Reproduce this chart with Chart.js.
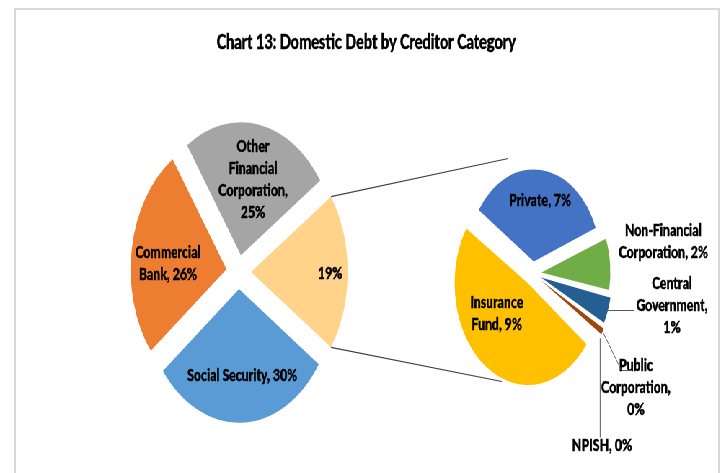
<!DOCTYPE html>
<html>
<head>
<meta charset="utf-8">
<script src="https://cdn.jsdelivr.net/npm/chart.js@4.4.1/dist/chart.umd.min.js"></script>
<style>
  body { margin: 0; background: #fff; }
  #moldura { position: absolute; left: 14px; top: 8px; width: 702px; height: 480px; border: 2px solid #d9d9d9; border-bottom: none; }
  #palco { position: absolute; left: 0; top: 0; width: 1000px; height: 473px; transform: scaleX(0.721); transform-origin: 0 0; }
  #palco canvas { position: absolute; left: 0; top: 0; }
</style>
</head>
<body>
<div id="moldura"></div>
<div id="palco">
  <canvas id="graficoPrincipal" width="1000" height="473"></canvas>
  <canvas id="graficoDetalhe" width="1000" height="473"></canvas>
</div>
<script>
const titulo = 'Chart 13: Domestic Debt by Creditor Category';

// pizza principal (o primeiro pedaço é o "outros" que abre na segunda pizza)
const categoriasPrincipais = ['Other', 'Social Security', 'Commercial Bank', 'Other Financial Corporation'];
const valoresPrincipais = [19, 30, 26, 25];
const coresPrincipais = ['#FFD38A', '#5B9BD5', '#ED7D31', '#A5A5A5'];

// pizza secundaria
const categoriasDetalhe = ['Private', 'Non-Financial Corporation', 'Central Government', 'Public Corporation', 'NPISH', 'Insurance Fund'];
const valoresDetalhe = [6.6, 1.7, 0.9, 0.3, 0.1, 9.4];
const coresDetalhe = ['#4472C4', '#70AD47', '#255E91', '#9E480E', '#636363', '#FFC000'];

const total = valoresPrincipais.reduce((a, b) => a + b, 0);
const fonteRotulo = '900 17px Lato';

// escreve texto com um contorno fino, pra ficar mais grosso depois do scaleX
function escreve(ctx, texto, x, y) {
  ctx.strokeText(texto, x, y);
  ctx.fillText(texto, x, y);
}

const rotulos = {
  id: 'rotulos',
  afterDatasetsDraw(chart, args, opts) {
    const ctx = chart.ctx;
    const arcos = chart.getDatasetMeta(0).data;
    const valores = chart.data.datasets[0].data;
    const cx = arcos[0].x, cy = arcos[0].y;
    ctx.save();
    ctx.fillStyle = '#000';
    ctx.strokeStyle = '#000';
    ctx.lineWidth = 0.4;
    ctx.textAlign = 'center';
    ctx.textBaseline = 'middle';
    if (opts.titulo) {
      ctx.font = '900 20px Lato';
      escreve(ctx, opts.titulo, opts.tituloX, opts.tituloY);
    }
    ctx.font = fonteRotulo;
    arcos.forEach((arco, i) => {
      const pct = Math.round(valores[i] / total * 100) + '%';
      const linhas = opts.linhas[i].map(l => l.replace('{p}', pct));
      const [dx, dy] = opts.posicoes[i];
      const y0 = cy + dy - (linhas.length - 1) * 22 / 2;
      ctx.strokeStyle = '#000';
      ctx.lineWidth = 0.4;
      linhas.forEach((l, k) => escreve(ctx, l, cx + dx, y0 + k * 22));
      const guia = opts.guias && opts.guias[i];
      if (guia) {
        const meio = (arco.startAngle + arco.endAngle) / 2;
        const t = arco.options.offset / 4;
        const fix = 1 - Math.sin(Math.min(Math.PI, arco.circumference));
        const r = t + arco.outerRadius + t * fix;
        ctx.strokeStyle = '#595959';
        ctx.lineWidth = 1;
        ctx.beginPath();
        const x1 = cx + Math.cos(meio) * r, y1 = cy + Math.sin(meio) * r;
        ctx.moveTo(x1, y1);
        guia.forEach(p => ctx.lineTo(p[0] === null ? x1 : cx + p[0], cy + p[1]));
        ctx.stroke();
      }
    });
    ctx.restore();
  }
};

const opcoesBase = {
  responsive: false,
  animation: false,
  events: [],
  plugins: { legend: { display: false }, tooltip: { enabled: false } }
};

const graficoPrincipal = new Chart(document.getElementById('graficoPrincipal'), {
  type: 'pie',
  data: {
    labels: categoriasPrincipais,
    datasets: [{ data: valoresPrincipais, backgroundColor: coresPrincipais, borderWidth: 0, offset: 68 }]
  },
  options: {
    ...opcoesBase,
    rotation: 55.8,
    radius: 133,
    layout: { padding: { left: 181, right: 519, top: 122, bottom: 51 } },
    plugins: {
      ...opcoesBase.plugins,
      rotulos: {
        titulo: titulo, tituloX: 508, tituloY: 43,
        linhas: [['{p}'], ['Social Security, {p}'], ['Commercial', 'Bank, {p}'], ['Other', 'Financial', 'Corporation,', '{p}']],
        posicoes: [[127, 2], [5, 104], [-98, -8], [20, -92]]
      }
    }
  },
  plugins: [rotulos]
});

const conectores = {
  id: 'conectores',
  afterDatasetsDraw(chart, args, opts) {
    const arco = graficoPrincipal.getDatasetMeta(0).data[0];
    const meio = (arco.startAngle + arco.endAngle) / 2;
    const t = arco.options.offset / 4;
    const fix = 1 - Math.sin(Math.min(Math.PI, arco.circumference));
    const r = arco.outerRadius + t * fix;
    const ox = arco.x + Math.cos(meio) * t, oy = arco.y + Math.sin(meio) * t;
    const centro = chart.getDatasetMeta(0).data[0];
    const ctx = chart.ctx;
    ctx.save();
    ctx.strokeStyle = '#404040';
    ctx.lineWidth = 1.2;
    ctx.beginPath();
    ctx.moveTo(ox + Math.cos(arco.startAngle) * r, oy + Math.sin(arco.startAngle) * r);
    ctx.lineTo(centro.x + opts.topo[0], centro.y + opts.topo[1]);
    ctx.moveTo(ox + Math.cos(arco.endAngle) * r, oy + Math.sin(arco.endAngle) * r);
    ctx.lineTo(centro.x + opts.base[0], centro.y + opts.base[1]);
    ctx.stroke();
    ctx.restore();
  }
};

new Chart(document.getElementById('graficoDetalhe'), {
  type: 'pie',
  data: {
    labels: categoriasDetalhe,
    datasets: [{ data: valoresDetalhe, backgroundColor: coresDetalhe, borderWidth: 0, offset: 48 }]
  },
  options: {
    ...opcoesBase,
    rotation: 303.8,
    radius: 90,
    layout: { padding: { left: 589, right: 111, top: 123, bottom: 49 } },
    plugins: {
      ...opcoesBase.plugins,
      conectores: { topo: [-34, -115], base: [-43, 108] },
      rotulos: {
        linhas: [['Private, {p}'], ['Non-Financial', 'Corporation, {p}'], ['Central', 'Government,', '{p}'],
                 ['Public', 'Corporation,', '{p}'], ['NPISH, {p}'], ['Insurance', 'Fund, {p}']],
        posicoes: [[10, -73], [181, -32], [193, 32], [143, 114], [96, 172], [-50, 40]],
        guias: [null, null, [[125, 37], [140, 37]], [[123, 97], [137, 97]], [[null, 164]], null]
      }
    }
  },
  plugins: [conectores, rotulos]
});
</script>
</body>
</html>
